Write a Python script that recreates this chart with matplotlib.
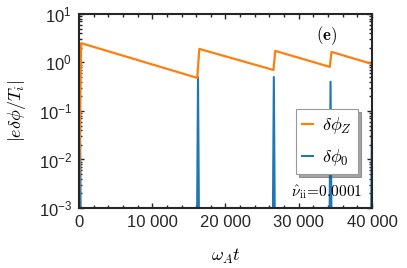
import matplotlib
matplotlib.use("Agg")
import matplotlib.pyplot as plt
from matplotlib.ticker import MultipleLocator, LogLocator, NullFormatter

plt.rcParams['mathtext.fontset'] = 'cm'
plt.rcParams['mathtext.rm'] = 'Liberation Sans'
plt.rcParams['mathtext.it'] = 'Liberation Sans:italic'
plt.rcParams['mathtext.bf'] = 'Liberation Sans:bold'
plt.rcParams['font.family'] = 'Liberation Sans'

# donnees
t_Z = [0, 300, 16150, 16430, 26550, 26800, 34240, 34470, 40000]
phi_Z = [1e-3, 2.5, 0.48, 1.9, 0.70, 1.73, 0.81, 1.65, 0.93]

t_0 = [0, 120, 350, 16000, 16250, 16500, 26350, 26600, 26850, 34090, 34340, 34590, 39750, 40000]
phi_0 = [1e-6, 0.3, 1e-6, 1e-6, 0.5, 1e-6, 1e-6, 0.5, 1e-6, 1e-6, 0.4, 1e-6, 1e-6, 0.1]

xticks = [0, 10000, 20000, 30000, 40000]
xlabels = ["0", "10 000", "20 000", "30 000", "40 000"]
yticks = [1e-3, 1e-2, 1e-1, 1e0, 1e1]
ylabels = [r"$10^{-3}$", r"$10^{-2}$", r"$10^{-1}$", r"$10^{0}$", r"$10^{1}$"]

c_bleu = '#1f77b4'
c_orange = '#ff7f0e'
c_cadre = '#262626'

fig = plt.figure(figsize=(4.07, 2.68), dpi=100)
ax = fig.add_axes([0.194, 0.224, 0.72, 0.724])

l0, = ax.plot(t_0, phi_0, color=c_bleu, lw=1.5, label=r"$\delta\phi_0$")
lZ, = ax.plot(t_Z, phi_Z, color=c_orange, lw=1.6, label=r"$\delta\phi_Z$")

ax.set_yscale('log')
ax.set_xlim(0, 40000)
ax.set_ylim(1e-3, 1e1)

ax.set_xticks(xticks, xlabels)
ax.set_yticks(yticks, ylabels)
ax.xaxis.set_minor_locator(MultipleLocator(2000))
ax.yaxis.set_minor_locator(LogLocator(base=10, subs=range(2, 10), numticks=20))
ax.yaxis.set_minor_formatter(NullFormatter())

for lab in ax.get_xticklabels() + ax.get_yticklabels():
    lab.set_math_fontfamily('custom')
    lab.set_fontsize(12)
    lab.set_color(c_cadre)

ax.tick_params(which='both', direction='in', top=True, right=True, color=c_cadre, width=1)
ax.tick_params(which='major', length=3.5, pad=5)
ax.tick_params(which='minor', length=2)
for s in ax.spines.values():
    s.set_linewidth(1.5)
    s.set_color(c_cadre)

ax.set_xlabel(r"$\omega_A t$", fontsize=13, labelpad=12)
ax.set_ylabel(r"$|e\delta\phi/T_i|$", fontsize=13, labelpad=8)

leg = ax.legend(handles=[lZ, l0], loc='upper left', bbox_to_anchor=(0.74, 0.51),
                borderaxespad=0, fontsize=13, handlelength=0.6, handletextpad=0.5,
                labelspacing=0.6, borderpad=0.35, fancybox=False, shadow=True,
                framealpha=1, edgecolor='#999999')
leg.get_frame().set_linewidth(0.8)

ax.text(0.846, 0.89, r"$\mathbf{(e)}$", transform=ax.transAxes, fontsize=12,
        ha='center', va='center')
ax.text(0.846, 0.082, r"$\hat{\nu}_{\rm ii}\!=\!0.0001$", transform=ax.transAxes,
        fontsize=11, ha='center', va='center')

fig.savefig("out.png", dpi=100)
